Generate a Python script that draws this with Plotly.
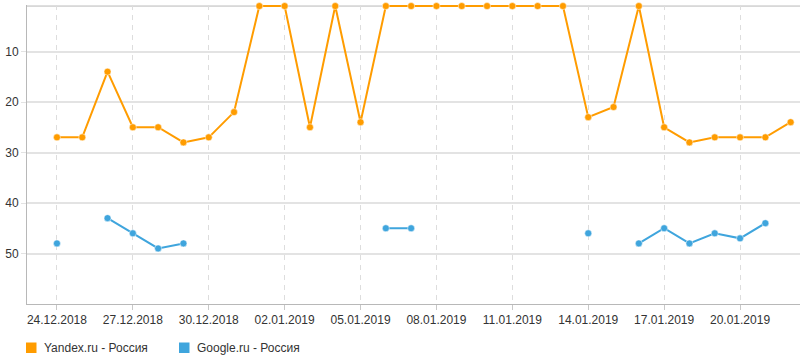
import plotly.graph_objects as go
import pandas as pd

dates = pd.date_range("2018-12-24", "2019-01-22", freq="D")

yandex = [27, 27, 14, 25, 25, 28, 27, 22, 1, 1,
          25, 1, 24, 1, 1, 1, 1, 1, 1, 1,
          1, 23, 21, 1, 25, 28, 27, 27, 27, 24]

google = [48, None, 43, 46, 49, 48, None, None, None, None,
          None, None, None, 45, 45, None, None, None, None, None,
          None, 46, None, 48, 45, 48, 46, 47, 44, None]

series_names = ["Yandex.ru - Россия", "Google.ru - Россия"]
series_colors = ["#ff9c00", "#3fa5dd"]

tick_dates = pd.date_range("2018-12-24", "2019-01-20", freq="3D")
tick_labels = [d.strftime("%d.%m.%Y") for d in tick_dates]
y_ticks = [10, 20, 30, 40, 50]
y_top, y_bottom = 1, 60

FONT = "Liberation Sans Narrow, Arial Narrow, Liberation Sans, Arial, sans-serif"

fig = go.Figure()
for vals, name, col in zip([yandex, google], series_names, series_colors):
    fig.add_trace(go.Scatter(
        x=dates, y=vals, name=name, mode="lines+markers",
        line=dict(color=col, width=2),
        marker=dict(color=col, size=7, line=dict(color="white", width=0.5)),
        connectgaps=False, showlegend=False, cliponaxis=False,
    ))

W, H = 800, 357
ml, mr, mt, mb = 27, 0, 5, 53
pw = W - ml - mr
ph = H - mt - mb

def px_x(px):
    return (px - ml) / pw

def px_y(py):
    return (H - mb - py) / ph

shapes = [dict(type="line", xref="paper", yref="y", x0=0, x1=1, y0=y_top, y1=y_top,
               line=dict(color="#b8b8b8", width=1), layer="below")]
annotations = []
leg_x = [26, 179]
for lx, name, col in zip(leg_x, series_names, series_colors):
    shapes.append(dict(type="rect", xref="paper", yref="paper",
                       x0=px_x(lx), x1=px_x(lx + 10.5),
                       y0=px_y(342.5), y1=px_y(353),
                       fillcolor=col, line=dict(width=0)))
    annotations.append(dict(xref="paper", yref="paper", x=px_x(lx + 15.5), y=px_y(348),
                            text=name, showarrow=False, xanchor="left", yanchor="middle",
                            font=dict(family=FONT, size=12, color="#333333")))

x0 = pd.Timestamp("2018-12-24") - pd.Timedelta(hours=28.4)
x1 = pd.Timestamp("2018-12-24") + pd.Timedelta(days=29.37)

# keep 5.05 px per rank unit; extend range slightly above rank 1 so lines are not clipped
upper = y_bottom - ph / 5.05

fig.update_layout(
    width=W, height=H,
    margin=dict(l=ml, r=mr, t=mt, b=mb),
    paper_bgcolor="white", plot_bgcolor="white",
    font=dict(family=FONT, size=12, color="#333333"),
    showlegend=False,
    shapes=shapes, annotations=annotations,
    xaxis=dict(
        range=[x0, x1], tickvals=list(tick_dates), ticktext=tick_labels,
        showgrid=True, gridcolor="#dddddd", griddash="5px,5px", gridwidth=1,
        showline=True, linecolor="#b8b8b8", linewidth=1,
        ticks="outside", ticklen=5, tickcolor="#c8c8c8",
        zeroline=False, fixedrange=True, layer="below traces",
    ),
    yaxis=dict(
        range=[y_bottom, upper], tickvals=y_ticks,
        showgrid=True, gridcolor="#e3e3e3", gridwidth=1.5,
        showline=True, linecolor="#b8b8b8", linewidth=1,
        ticks="outside", ticklen=5, tickcolor="#e3e3e3",
        zeroline=False, fixedrange=True, layer="below traces",
    ),
)

fig.write_html("out.html")
